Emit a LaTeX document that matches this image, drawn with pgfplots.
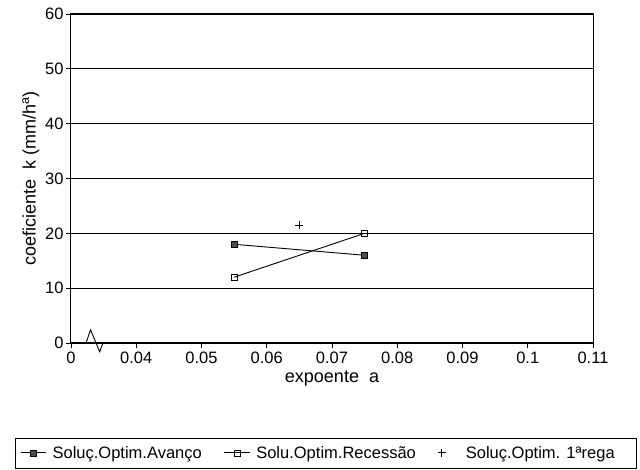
\documentclass[border=0pt]{standalone}
\usepackage{pgfplots}
\pgfplotsset{compat=1.18}
\usepackage{fontspec}
\setmainfont{Liberation Sans}
\begin{document}
\begin{tikzpicture}
\begin{axis}[
  at={(0pt,0pt)}, anchor=south west,
  scale only axis, clip=false,
  width=522pt, height=329pt,
  xmin=0.03, xmax=0.11, ymin=0, ymax=60,
  xtick={0.03,0.04,0.05,0.06,0.07,0.08,0.09,0.1,0.11},
  xticklabels={0,0.04,0.05,0.06,0.07,0.08,0.09,0.1,0.11},
  ytick={0,10,20,30,40,50,60},
  /pgf/number format/assume math mode=true,
  tick align=outside, xtick pos=bottom, ytick pos=left,
  major tick length=5pt,
  tick style={black, line width=0.8pt},
  axis line style={black, line width=1pt},
  ymajorgrids, grid style={black, line width=1.1pt},
  ticklabel style={font=\fontsize{16.5}{18}\selectfont},
  yticklabel style={xshift=1pt},
  xlabel={expoente\ \ a}, ylabel={coeficiente\ \ k (mm/h\textsuperscript{a})},
  label style={font=\fontsize{18}{20}\selectfont},
  xlabel style={yshift=-1pt},
  ylabel style={yshift=-1pt},
  legend image code/.code={\draw[mark repeat=2,mark phase=2,#1] plot coordinates {(0cm,0cm) (0.45cm,0cm) (0.9cm,0cm)};},
  legend style={draw=none, fill=none, at={(0.474,-0.334)}, anchor=center,
    legend columns=3, font=\fontsize{16.5}{18}\selectfont,
    /tikz/every odd column/.append style={column sep=4pt},
    /tikz/every even column/.append style={column sep=20pt}},
  legend cell align=left,
]
\addplot[black, line width=0.9pt, mark=square*, mark size=3pt,
  mark options={fill=black!70, draw=black, line width=0.6pt}]
  coordinates {(0.055,18) (0.075,16)};
\addlegendentry{Soluç.Optim.Avanço}
\addplot[black, line width=0.9pt, mark=square, mark size=3pt,
  mark options={fill=white, draw=black, line width=0.6pt}]
  coordinates {(0.055,12) (0.075,20)};
\addlegendentry{Solu.Optim.Recessão}
\addplot[only marks, black, mark=+, mark size=4pt, mark options={line width=0.8pt}]
  coordinates {(0.065,21.5)};
\addlegendentry{\hspace{14pt}Soluç.Optim. 1ªrega}
\draw[black, line width=0.9pt] (axis cs:0.0323,0) -- (axis cs:0.0330,2.4) -- (axis cs:0.0344,-1.6) -- (axis cs:0.0349,0);
\end{axis}
\draw[black, line width=0.9pt] (-56pt,-95pt) rectangle (565pt,-125pt);
\path[use as bounding box] (-71pt,-127pt) rectangle (569pt,343pt);
\end{tikzpicture}
\end{document}
